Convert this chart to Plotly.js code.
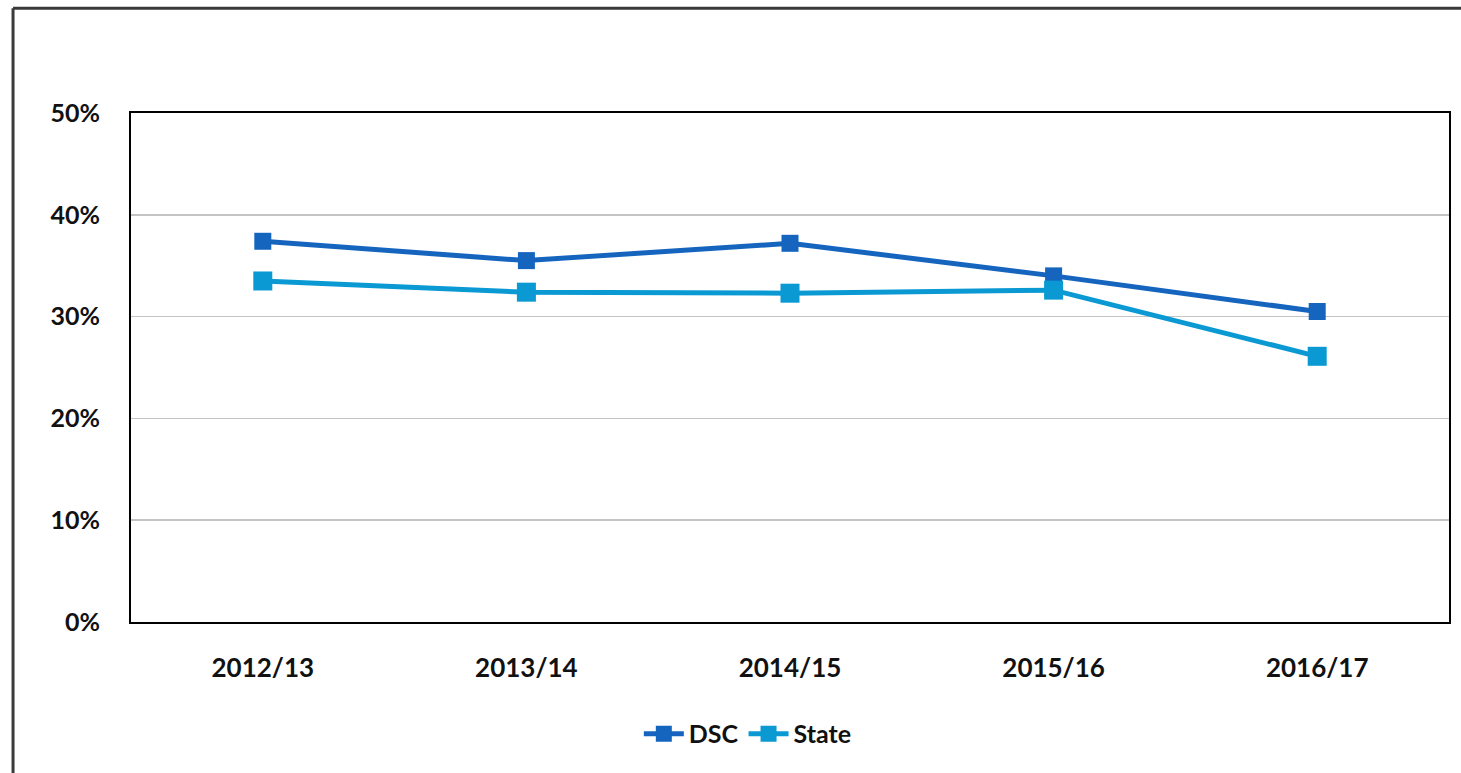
<!DOCTYPE html>
<html>
<head>
<meta charset="utf-8">
<script src="https://cdn.plot.ly/plotly-3.0.1.min.js"></script>
<style>html,body{margin:0;padding:0;background:#fff;}#chart{width:1461px;height:773px;}</style>
</head>
<body>
<div id="chart"></div>
<script>
const years = ['2012/13', '2013/14', '2014/15', '2015/16', '2016/17'];
const dscValues = [37.4, 35.5, 37.2, 34.0, 30.5];
const stateValues = [33.5, 32.4, 32.3, 32.6, 26.1];
const yTicks = [0, 10, 20, 30, 40, 50];
const yTickLabels = ['0%', '10%', '20%', '30%', '40%', '50%'];

const FONT = 'Lato, "Open Sans", sans-serif';

const traces = [
  {
    x: years, y: dscValues, name: 'DSC', type: 'scatter', mode: 'lines+markers',
    line: {color: '#1565BF', width: 5},
    marker: {symbol: 'square', size: 17, color: '#1565BF'}
  },
  {
    x: years, y: stateValues, name: 'State', type: 'scatter', mode: 'lines+markers',
    line: {color: '#0A99D3', width: 5},
    marker: {symbol: 'square', size: 19, color: '#0A99D3'}
  }
];

const layout = {
  width: 1461, height: 773,
  margin: {l: 131, r: 12, t: 113, b: 151},
  paper_bgcolor: '#fff', plot_bgcolor: '#fff',
  font: {family: FONT, size: 22, color: '#111'},
  showlegend: true,
  legend: {
    orientation: 'h', x: 0.468, y: -0.22, xanchor: 'center', yanchor: 'middle',
    font: {family: FONT, size: 25, color: '#111', weight: 'bold'}, itemwidth: 40
  },
  xaxis: {
    type: 'category', range: [-0.5, 4.5],
    showgrid: false, zeroline: false,
    showline: true, linecolor: '#000', linewidth: 2, mirror: true,
    ticks: '', ticklabelstandoff: 22,
    tickfont: {family: FONT, size: 26, color: '#111', weight: 'bold'}
  },
  yaxis: {
    range: [0, 50], tickmode: 'array', tickvals: yTicks, ticktext: yTickLabels,
    showgrid: true, gridcolor: '#C4C4C4', gridwidth: 1.5,
    zeroline: false,
    showline: true, linecolor: '#000', linewidth: 2, mirror: true,
    ticks: '', ticklabelstandoff: 24,
    tickfont: {family: FONT, size: 25, color: '#111', weight: 'bold'}
  },
  shapes: [
    {type: 'line', xref: 'paper', yref: 'paper', x0: -0.0895, x1: -0.0895, y0: -0.35, y1: 1.206,
     line: {color: '#3a3a3a', width: 3}},
    {type: 'line', xref: 'paper', yref: 'paper', x0: -0.0895, x1: 1.02, y0: 1.206, y1: 1.206,
     line: {color: '#3a3a3a', width: 3}}
  ]
};

Plotly.newPlot('chart', traces, layout, {staticPlot: true, displayModeBar: false});
</script>
</body>
</html>
